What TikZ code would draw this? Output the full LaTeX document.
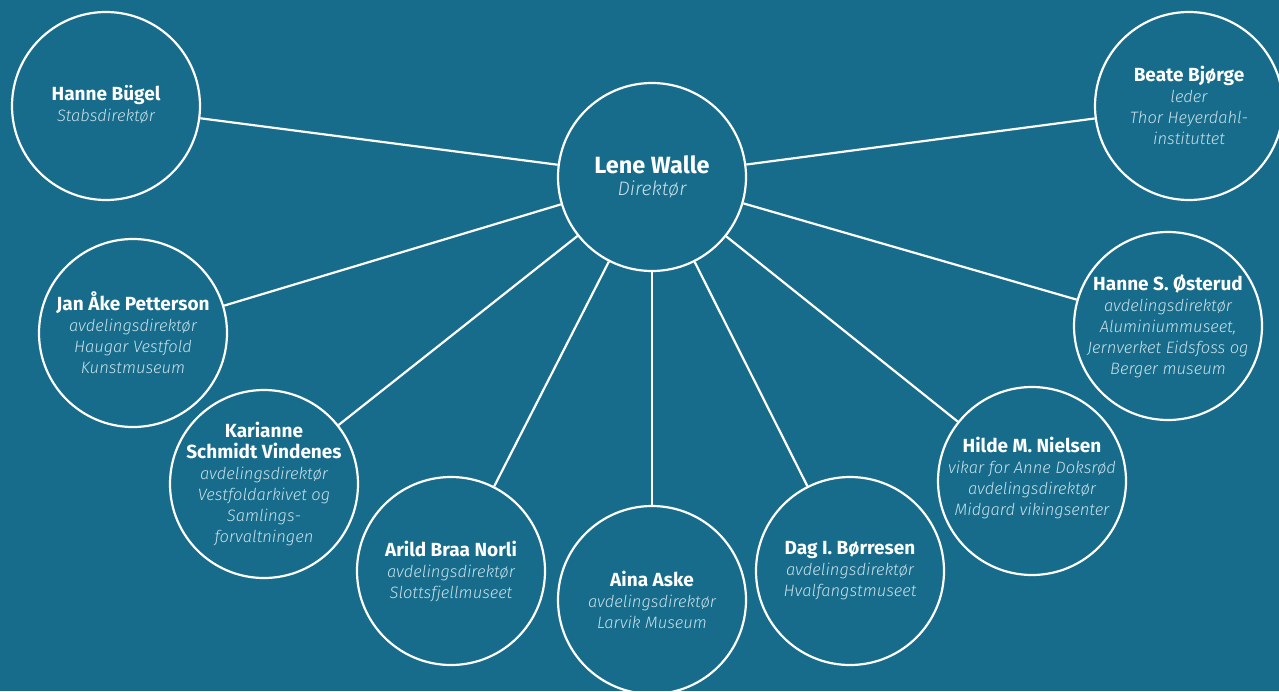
\documentclass[tikz,border=0pt]{standalone}
\usepackage{fontspec}
\setmainfont{Fira Sans}
\newfontfamily\subfamily{Fira Sans Light Italic}
\definecolor{bg}{RGB}{22,108,138}
\definecolor{subc}{RGB}{200,224,234}
\newcommand{\nm}[1]{{\fontsize{19}{21}\selectfont\bfseries #1}}
\newcommand{\sub}[1]{{\fontsize{16.5}{21}\subfamily\color{subc}#1}}
\begin{document}
\begin{tikzpicture}[x=1pt,y=-1pt,
  pcircle/.style={circle,draw=white,line width=2.2pt,minimum size=188pt,inner sep=0pt},
  ptext/.style={align=center,text=white,inner sep=0pt,font=\fontsize{16.5}{21}\selectfont},
  link/.style={draw=white,line width=2.2pt}]
\fill[bg] (0,0) rectangle (1279,691);
\useasboundingbox (0,0) rectangle (1279,691);
% circles
\node[pcircle] (lene) at (652,177) {};
\node[pcircle] (bugel) at (106,106) {};
\node[pcircle] (beate) at (1189,106) {};
\node[pcircle] (jan) at (133,333) {};
\node[pcircle] (osterud) at (1168,326) {};
\node[pcircle] (karianne) at (264,484) {};
\node[pcircle] (hilde) at (1032,481) {};
\node[pcircle] (arild) at (451,571) {};
\node[pcircle] (dag) at (850,571) {};
\node[pcircle] (aina) at (652,600) {};
% connectors
\foreach \t in {bugel,beate,jan,osterud,karianne,hilde,arild,dag,aina}
  \draw[link] (lene) -- (\t);
% texts
\node[ptext] (lene-t) at (lene) {{\fontsize{23.5}{24}\selectfont\bfseries Lene Walle}\\[1pt]{\fontsize{19.5}{24}\subfamily\color{subc}Direktør}};
\node[ptext] (bugel-t) at ([yshift=2]bugel) {\nm{Hanne Bügel}\\\sub{Stabsdirektør}};
\node[ptext] (beate-t) at ([yshift=1]beate) {\nm{Beate Bjørge}\\\sub{leder}\\\sub{Thor Heyerdahl-}\\\sub{instituttet}};
\node[ptext] (jan-t) at (jan) {\nm{Jan Åke Petterson}\\\sub{avdelingsdirektør}\\\sub{Haugar Vestfold}\\\sub{Kunstmuseum}};
\node[ptext] (osterud-t) at (osterud) {\nm{Hanne S. Østerud}\\\sub{avdelingsdirektør}\\\sub{Aluminiummuseet,}\\\sub{Jernverket Eidsfoss og}\\\sub{Berger museum}};
\node[ptext] (karianne-t) at (karianne) {\nm{Karianne}\\\nm{Schmidt Vindenes}\\\sub{avdelingsdirektør}\\\sub{Vestfoldarkivet og}\\\sub{Samlings-}\\\sub{forvaltningen}};
\node[ptext] (hilde-t) at ([yshift=3]hilde) {\nm{Hilde M. Nielsen}\\\sub{vikar for Anne Doksrød}\\\sub{avdelingsdirektør}\\\sub{Midgard vikingsenter}};
\node[ptext] (arild-t) at (arild) {\nm{Arild Braa Norli}\\\sub{avdelingsdirektør}\\\sub{Slottsfjellmuseet}};
\node[ptext] (dag-t) at (dag) {\nm{Dag I. Børresen}\\\sub{avdelingsdirektør}\\\sub{Hvalfangstmuseet}};
\node[ptext] (aina-t) at (aina) {\nm{Aina Aske}\\\sub{avdelingsdirektør}\\\sub{Larvik Museum}};
\end{tikzpicture}
\end{document}
